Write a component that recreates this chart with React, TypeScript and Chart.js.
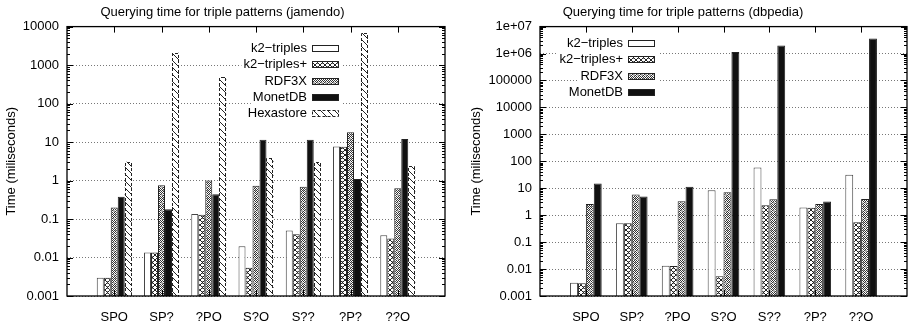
import React, { useEffect, useRef } from 'react';
import { Chart, registerables } from 'chart.js';

Chart.register(...registerables);

const categories = ['SPO', 'SP?', '?PO', 'S?O', 'S??', '?P?', '??O'];

// jamendo (miliseconds)
const jamendoK2 = [0.003, 0.0134, 0.136, 0.0196, 0.05, 7.7, 0.038];
const jamendoK2Plus = [0.003, 0.0134, 0.13, 0.0054, 0.04, 7.5, 0.031];
const jamendoRDF3X = [0.2, 0.76, 1.0, 0.73, 0.69, 18, 0.63];
const jamendoMonetDB = [0.377, 0.18, 0.44, 11.5, 11.5, 1.1, 12];
const jamendoHexastore = [3.1, 2100, 490, 3.8, 2.95, 6800, 2.4];

// dbpedia (miliseconds)
const dbpediaK2 = [0.0031, 0.5, 0.0134, 8.5, 59, 1.92, 31.5];
const dbpediaK2Plus = [0.003, 0.5, 0.013, 0.0054, 2.35, 1.9, 0.55];
const dbpediaRDF3X = [2.6, 5.8, 3.3, 7.1, 3.9, 2.6, 4.0];
const dbpediaMonetDB = [15, 4.9, 11.3, 1.14e6, 2.0e6, 3.2, 3.6e6];

const jamendoTicks = [0.001, 0.01, 0.1, 1, 10, 100, 1000, 10000];
const jamendoTickLabels = ['0.001', '0.01', '0.1', '1', '10', '100', '1000', '10000'];
const dbpediaTicks = [0.001, 0.01, 0.1, 1, 10, 100, 1000, 10000, 100000, 1e6, 1e7];
const dbpediaTickLabels = ['0.001', '0.01', '0.1', '1', '10', '100', '1000', '10000', '100000', '1e+06', '1e+07'];

const seriesNames5 = ['k2\u2212triples', 'k2\u2212triples+', 'RDF3X', 'MonetDB', 'Hexastore'];
const seriesNames4 = ['k2\u2212triples', 'k2\u2212triples+', 'RDF3X', 'MonetDB'];

const FONT = "'Liberation Sans', Arial, Helvetica, sans-serif";
Chart.defaults.font.family = FONT;
Chart.defaults.color = '#000';

function makePattern(kind: string): any {
  const c = document.createElement('canvas');
  const ctx = c.getContext('2d')!;
  if (kind === 'white') return '#ffffff';
  if (kind === 'black') return '#111111';
  if (kind === 'cross') {
    c.width = 5; c.height = 5;
    ctx.fillStyle = '#fff'; ctx.fillRect(0, 0, 5, 5);
    ctx.fillStyle = '#222';
    for (let i = 0; i < 5; i++) { ctx.fillRect(i, i, 1, 1); ctx.fillRect(4 - i, i, 1, 1); }
    ctx.fillStyle = '#888';
    ctx.fillRect(2, 1, 1, 1); ctx.fillRect(2, 3, 1, 1);
  } else if (kind === 'stipple') {
    c.width = 4; c.height = 8;
    ctx.fillStyle = '#fff'; ctx.fillRect(0, 0, 4, 8);
    for (let x = 0; x < 4; x++) for (let y = 0; y < 8; y++) {
      if ((x + y) % 2 === 0) { ctx.fillStyle = '#333'; ctx.fillRect(x, y, 1, 1); }
    }
    ctx.fillStyle = '#aaa';
    ctx.fillRect(1, 2, 2, 2);
    ctx.fillRect(3, 6, 1, 1);
  } else if (kind === 'hatch') {
    c.width = 7; c.height = 7;
    ctx.fillStyle = '#fff'; ctx.fillRect(0, 0, 7, 7);
    ctx.fillStyle = '#222';
    for (let i = 0; i < 7; i++) ctx.fillRect(i, i, 1, 1);
  }
  return ctx.createPattern(c, 'repeat');
}

const kinds = ['white', 'cross', 'stipple', 'black', 'hatch'];

interface PanelOpts {
  title: string;
  series: number[][];
  names: string[];
  ticks: number[];
  tickLabels: string[];
  yWidth: number;
  padRight: number;
  yTitlePad: number;
  catPct: number;
  legendX: number;
  legendY: number;
}

function buildConfig(o: PanelOpts): any {
  const fills = o.series.map((_, i) => makePattern(kinds[i]));
  const labels = ['', ...categories, ''];
  const datasets = o.series.map((arr, i) => ({
    label: o.names[i],
    data: [null, ...arr, null],
    backgroundColor: fills[i],
    borderColor: i === 0 ? '#444' : '#222',
    borderWidth: kinds[i] === 'hatch' ? 0 : 1,
    borderSkipped: 'start',
    categoryPercentage: o.catPct,
    barPercentage: 1,
  }));

  const frame = {
    id: 'frame',
    afterDatasetsDraw(chart: any) {
      const { ctx, chartArea: a, scales } = chart;
      const ys = scales.y, xs = scales.x;
      ctx.save();
      // dashed outline for hatched (Hexastore) bars
      chart.data.datasets.forEach((ds: any, di: number) => {
        if (kinds[di] !== 'hatch') return;
        const meta = chart.getDatasetMeta(di);
        meta.data.forEach((el: any, j: number) => {
          if (ds.data[j] == null) return;
          const p = el.getProps(['x', 'y', 'base', 'width'], true);
          const l = Math.round(p.x - p.width / 2) + 0.5;
          const r = Math.round(p.x + p.width / 2) - 0.5;
          const t = Math.round(p.y) + 0.5;
          const b = Math.round(p.base);
          ctx.strokeStyle = '#222';
          ctx.lineWidth = 1;
          ctx.setLineDash([3, 2]);
          ctx.beginPath();
          ctx.moveTo(l, b); ctx.lineTo(l, t); ctx.lineTo(r, t); ctx.lineTo(r, b);
          ctx.stroke();
        });
      });
      ctx.setLineDash([]);
      ctx.strokeStyle = '#000';
      ctx.lineWidth = 1;
      const line = (x1: number, y1: number, x2: number, y2: number) => {
        ctx.beginPath(); ctx.moveTo(x1, y1); ctx.lineTo(x2, y2); ctx.stroke();
      };
      const e0 = Math.round(Math.log10(o.ticks[0]));
      const e1 = Math.round(Math.log10(o.ticks[o.ticks.length - 1]));
      for (let e = e0; e <= e1; e++) {
        for (let m = 1; m <= 9; m++) {
          const v = m * Math.pow(10, e);
          if (v > o.ticks[o.ticks.length - 1] * 1.0001) break;
          const y = Math.round(ys.getPixelForValue(v)) + 0.5;
          const len = m === 1 ? 6 : 3;
          line(a.left, y, a.left + len, y);
          line(a.right, y, a.right - len, y);
        }
      }
      categories.forEach((_, i) => {
        const x = Math.round(xs.getPixelForValue(i + 1)) + 0.5;
        line(x, a.top, x, a.top + 6);
        line(x, a.bottom, x, a.bottom - 6);
      });
      ctx.lineWidth = 1.3;
      ctx.strokeRect(a.left, a.top, a.right - a.left, a.bottom - a.top);
      ctx.restore();
    },
    afterDraw(chart: any) {
      const { ctx } = chart;
      ctx.save();
      ctx.font = `13px ${FONT}`;
      ctx.textAlign = 'right';
      ctx.textBaseline = 'middle';
      const step = 16.3;
      o.names.forEach((name, i) => {
        const cy = o.legendY + i * step;
        const w = ctx.measureText(name).width;
        ctx.fillStyle = '#fff';
        ctx.fillRect(o.legendX - w - 2, cy - 7, w + 2 + 5 + 28 + 2, 14);
        ctx.fillStyle = '#000';
        ctx.fillText(name, o.legendX, cy);
        const bx = o.legendX + 5, by = Math.round(cy - 3.5);
        ctx.fillStyle = fills[i];
        ctx.fillRect(bx, by, 27, 7);
        ctx.strokeStyle = '#222';
        ctx.lineWidth = 1;
        if (kinds[i] === 'hatch') ctx.setLineDash([3, 2]);
        ctx.strokeRect(bx + 0.5, by + 0.5, 26, 6);
        ctx.setLineDash([]);
      });
      ctx.restore();
    },
  };

  return {
    type: 'bar',
    data: { labels, datasets },
    plugins: [frame],
    options: {
      animation: false,
      responsive: false,
      layout: { padding: { left: 0, right: o.padRight, top: 0, bottom: 0 } },
      plugins: {
        legend: { display: false },
        tooltip: { enabled: false },
        title: {
          display: true,
          text: o.title,
          color: '#000',
          font: { size: 13, weight: 'normal', family: FONT },
          padding: { top: 5, bottom: 6 },
        },
      },
      scales: {
        x: {
          type: 'category',
          offset: false,
          grid: { display: false },
          border: { display: false },
          ticks: { font: { size: 13 }, color: '#000', padding: 6, maxRotation: 0, autoSkip: false },
          afterFit: (s: any) => { s.height = 25; },
        },
        y: {
          type: 'logarithmic',
          min: o.ticks[0],
          max: o.ticks[o.ticks.length - 1],
          grid: { color: '#777', lineWidth: 1, drawTicks: false },
          border: { display: false, dash: [1, 2] },
          ticks: {
            font: { size: 13 },
            color: '#000',
            padding: 8,
            autoSkip: false,
            callback: (_v: any, idx: number) => o.tickLabels[idx],
          },
          afterBuildTicks: (s: any) => { s.ticks = o.ticks.map((v) => ({ value: v })); },
          afterFit: (s: any) => { s.width = o.yWidth; },
          title: {
            display: true,
            text: 'Time (miliseconds)',
            color: '#000',
            font: { size: 13 },
            padding: { top: o.yTitlePad, bottom: 0 },
          },
        },
      },
    },
  };
}

function Panel({ opts, width, height }: { opts: PanelOpts; width: number; height: number }) {
  const ref = useRef<HTMLCanvasElement>(null);
  useEffect(() => {
    const chart = new Chart(ref.current!, buildConfig(opts));
    return () => chart.destroy();
  }, []);
  return <canvas ref={ref} width={width} height={height} style={{ display: 'block', width, height }} />;
}

export default function App() {
  const left: PanelOpts = {
    title: 'Querying time for triple patterns (jamendo)',
    series: [jamendoK2, jamendoK2Plus, jamendoRDF3X, jamendoMonetDB, jamendoHexastore],
    names: seriesNames5,
    ticks: jamendoTicks,
    tickLabels: jamendoTickLabels,
    yWidth: 67,
    padRight: 11,
    yTitlePad: 4,
    catPct: 0.74,
    legendX: 307,
    legendY: 48.5,
  };
  const right: PanelOpts = {
    title: 'Querying time for triple patterns (dbpedia)',
    series: [dbpediaK2, dbpediaK2Plus, dbpediaRDF3X, dbpediaMonetDB],
    names: seriesNames4,
    ticks: dbpediaTicks,
    tickLabels: dbpediaTickLabels,
    yWidth: 84,
    padRight: 3,
    yTitlePad: 13,
    catPct: 0.69,
    legendX: 623 - 456,
    legendY: 43.5,
  };
  return (
    <div style={{ position: 'fixed', left: 0, top: 0, width: 913, height: 321, background: '#fff', display: 'flex' }}>
      <Panel opts={left} width={456} height={321} />
      <Panel opts={right} width={457} height={321} />
    </div>
  );
}
